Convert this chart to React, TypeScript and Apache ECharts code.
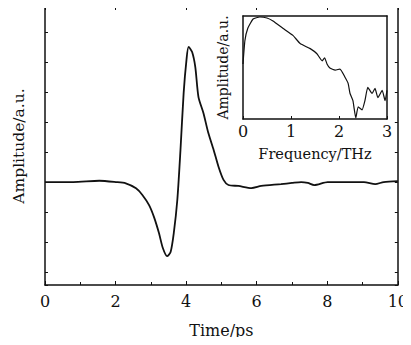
import React, { useEffect, useRef } from "react";
import * as echarts from "echarts";

// Main time-domain waveform (Time/ps, Amplitude a.u. — one unit = one y tick step)
const timeX = [0, 0.8, 1.54, 2.01, 2.29, 2.58, 2.76, 2.95, 3.09, 3.23, 3.34, 3.46, 3.56, 3.65, 3.75, 3.84, 3.93, 4.01, 4.07, 4.17, 4.26, 4.35, 4.49, 4.63, 4.78, 4.92, 5.06, 5.2, 5.48, 5.85, 6.13, 6.69, 7.0, 7.26, 7.45, 7.63, 8.01, 8.57, 9.04, 9.36, 9.6, 10];
const timeY = [0, 0, 0.043, 0, -0.043, -0.21, -0.43, -0.77, -1.17, -1.7, -2.2, -2.47, -2.33, -1.7, -0.6, 1.07, 2.97, 4.07, 4.5, 4.33, 3.83, 2.83, 2.3, 1.63, 1.07, 0.5, 0.07, -0.1, -0.13, -0.2, -0.13, -0.07, -0.03, 0, -0.03, -0.1, 0, 0, 0, -0.07, 0, 0.03];

// Inset spectrum (Frequency/THz, Amplitude a.u.)
const freqX = [0, 0.04, 0.1, 0.21, 0.35, 0.5, 0.625, 0.83, 1.04, 1.19, 1.4, 1.54, 1.65, 1.7, 1.75, 1.81, 1.92, 2.02, 2.125, 2.19, 2.23, 2.29, 2.35, 2.4, 2.48, 2.54, 2.6, 2.69, 2.75, 2.81, 2.9, 2.96, 3.0];
const freqY = [0.54, 0.77, 0.89, 0.98, 1.0, 0.99, 0.96, 0.89, 0.82, 0.74, 0.69, 0.64, 0.57, 0.6, 0.54, 0.5, 0.48, 0.49, 0.41, 0.35, 0.25, 0.18, 0.01, 0.12, 0.09, 0.18, 0.31, 0.25, 0.3, 0.21, 0.28, 0.18, 0.28];

const timeTicks = ["0", "2", "4", "6", "8", "10"];
const freqTicks = ["0", "1", "2", "3"];

const FONT = "DejaVu Serif";
const INK = "#111";

export default function App() {
  const ref = useRef<HTMLDivElement>(null);
  useEffect(() => {
    if (!ref.current) return;
    const chart = echarts.init(ref.current, null, { renderer: "svg" });
    const timeData = timeX.map((x, i) => [x, timeY[i]]);
    const freqData = freqX.map((x, i) => [x, freqY[i]]);
    const axisLine = { show: true, onZero: false, lineStyle: { color: INK, width: 1.5 } };
    const yMain = {
      type: "value", gridIndex: 0, min: -3.43, max: 5.83, splitNumber: 9,
      axisLine, splitLine: { show: false },
      axisTick: { show: true, inside: true, length: 3, lineStyle: { color: INK } },
      axisLabel: { show: false },
    };
    chart.setOption({
      animation: false,
      backgroundColor: "#fff",
      grid: [
        { left: 45, right: 10, top: 7, bottom: 60 },
        { left: 243, top: 16, width: 144, height: 103 },
      ],
      xAxis: [
        {
          type: "value", gridIndex: 0, min: 0, max: 10, interval: 2, position: "bottom",
          axisLine, splitLine: { show: false },
          axisTick: { show: true, inside: true, length: 4, lineStyle: { color: INK } },
          minorTick: { show: true, splitNumber: 2, length: 3, lineStyle: { color: INK } },
          axisLabel: {
            margin: 8, fontFamily: FONT, fontSize: 16, color: INK,
            formatter: (v: number) => timeTicks[Math.round(v / 2)] ?? "",
          },
          name: "Time/ps", nameLocation: "middle", nameGap: 37,
          nameTextStyle: { fontFamily: FONT, fontSize: 16, color: INK },
        },
        {
          type: "value", gridIndex: 0, min: 0, max: 10, interval: 2, position: "top",
          axisLine, splitLine: { show: false },
          axisTick: { show: true, inside: true, length: 3, lineStyle: { color: INK } },
          axisLabel: { show: false },
        },
        {
          type: "value", gridIndex: 1, min: 0, max: 3, interval: 1, position: "bottom",
          axisLine, splitLine: { show: false },
          axisTick: { show: true, inside: true, length: 3, lineStyle: { color: INK } },
          axisLabel: {
            margin: 4, fontFamily: FONT, fontSize: 16, color: INK,
            formatter: (v: number) => freqTicks[Math.round(v)] ?? "",
          },
          name: "Frequency/THz", nameLocation: "middle", nameGap: 27,
          nameTextStyle: { fontFamily: FONT, fontSize: 14.5, color: INK },
        },
        {
          type: "value", gridIndex: 1, min: 0, max: 3, interval: 1, position: "top",
          axisLine, splitLine: { show: false }, axisTick: { show: false }, axisLabel: { show: false },
        },
      ],
      yAxis: [
        {
          ...yMain, position: "left",
          name: "Amplitude/a.u.", nameLocation: "middle", nameGap: 18,
          nameTextStyle: { fontFamily: FONT, fontSize: 15.5, color: INK },
        },
        { ...yMain, position: "right" },
        {
          type: "value", gridIndex: 1, min: 0, max: 1.01, position: "left",
          axisLine, splitLine: { show: false }, axisTick: { show: false }, axisLabel: { show: false },
          name: "Amplitude/a.u.", nameLocation: "middle", nameGap: 13,
          nameTextStyle: { fontFamily: FONT, fontSize: 14, color: INK },
        },
        {
          type: "value", gridIndex: 1, min: 0, max: 1.01, position: "right",
          axisLine, splitLine: { show: false }, axisTick: { show: false }, axisLabel: { show: false },
        },
      ],
      series: [
        {
          type: "line", xAxisIndex: 0, yAxisIndex: 0, data: timeData, smooth: 0.25,
          symbol: "none", lineStyle: { color: INK, width: 1.8 },
        },
        {
          type: "line", xAxisIndex: 2, yAxisIndex: 2, data: freqData, smooth: 0.15,
          symbol: "none", lineStyle: { color: INK, width: 1.2 },
        },
      ],
    });
    return () => chart.dispose();
  }, []);
  return <div ref={ref} style={{ width: 411, height: 345, margin: -8 }} />;
}
